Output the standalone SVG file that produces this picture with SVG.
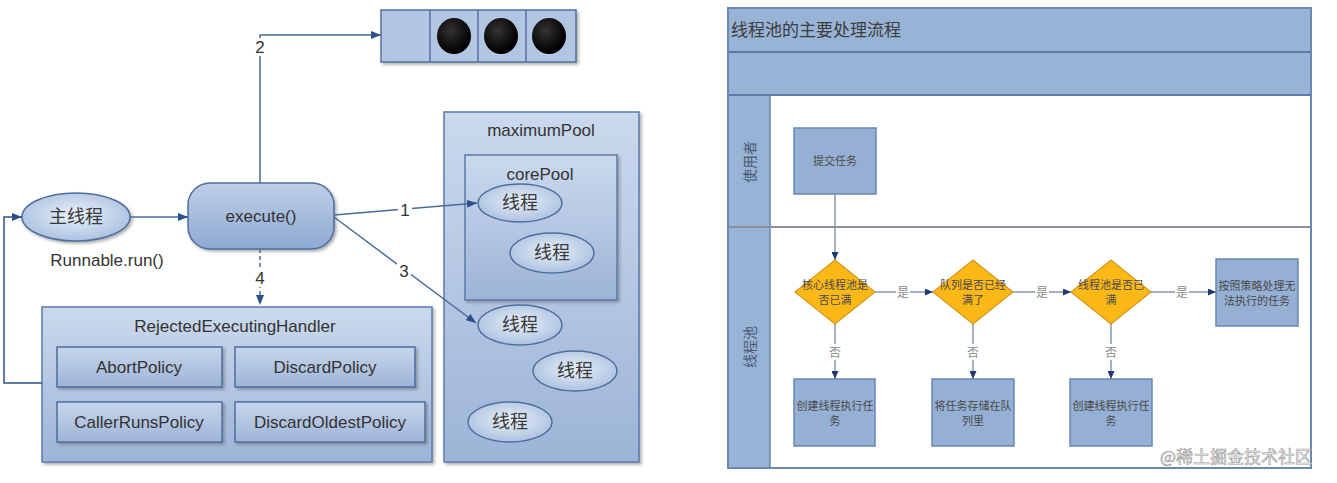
<svg xmlns="http://www.w3.org/2000/svg" width="1337" height="483" viewBox="0 0 1337 483">
<defs>
<linearGradient id="gBox" x1="0" y1="0" x2="0" y2="1"><stop offset="0" stop-color="#cbd9ed"/><stop offset="1" stop-color="#9db4d7"/></linearGradient>
<linearGradient id="gPol" x1="0" y1="0" x2="0" y2="1"><stop offset="0" stop-color="#c6d5eb"/><stop offset="1" stop-color="#9eb5d8"/></linearGradient>
<linearGradient id="gExec" x1="0" y1="0" x2="0" y2="1"><stop offset="0" stop-color="#bfcfe7"/><stop offset="1" stop-color="#8ea9d1"/></linearGradient>
<radialGradient id="gEll" cx="0.5" cy="0.45" r="0.6"><stop offset="0" stop-color="#e9f0f9"/><stop offset="1" stop-color="#a7bede"/></radialGradient>
<radialGradient id="gBall" cx="0.4" cy="0.35" r="0.6"><stop offset="0" stop-color="#333"/><stop offset="1" stop-color="#000"/></radialGradient>
<filter id="sh" x="-10%" y="-10%" width="130%" height="130%"><feDropShadow dx="2" dy="2" stdDeviation="1.5" flood-color="#555" flood-opacity="0.45"/></filter>
<marker id="ah" viewBox="0 0 10 8" refX="10" refY="4" markerWidth="10" markerHeight="8" markerUnits="userSpaceOnUse" orient="auto"><path d="M0,0 L10,4 L0,8 z" fill="#2a4f8a"/></marker>
<marker id="ar" viewBox="0 0 8 7" refX="8" refY="3.5" markerWidth="8" markerHeight="7" markerUnits="userSpaceOnUse" orient="auto"><path d="M0,0 L8,3.5 L0,7 z" fill="#1f3a70"/></marker>
<style>
.lt{font-family:"Liberation Sans","Noto Sans",sans-serif;font-size:17px;fill:#333;text-anchor:middle}
.cj{font-family:"Noto Sans CJK SC",sans-serif;font-size:18px;fill:#3a3a3a;text-anchor:middle}
.box{fill:url(#gBox);stroke:#5b7bab;stroke-width:1.5}
.pol{fill:url(#gPol);stroke:#4f6f9f;stroke-width:1.5;filter:url(#sh)}
.ell{fill:url(#gEll);stroke:#4f6f9f;stroke-width:1.5}
.cn{fill:none;stroke:#4a6c9b;stroke-width:1.5}
.rb{fill:#95b0d4;stroke:#6a86b0;stroke-width:1.5}
.dm{fill:#fbb817;stroke:#d4981f;stroke-width:1.2}
.rt{font-family:"Noto Sans CJK SC",serif;font-size:11px;fill:#4a4a4a;text-anchor:middle}
.rc{fill:none;stroke:#8d97a8;stroke-width:1.5}
.lb{font-family:"Noto Sans CJK SC",serif;font-size:12px;fill:#8c8c8c;text-anchor:middle}
</style>
</defs>
<rect width="1337" height="483" fill="#ffffff"/>

<!-- LEFT DIAGRAM -->
<g id="queue">
<rect x="381" y="10" width="195" height="52" fill="#b3c6e1" stroke="#53719f" stroke-width="1.5" filter="url(#sh)"/>
<line x1="430" y1="10" x2="430" y2="62" stroke="#53719f" stroke-width="1.5"/>
<line x1="478" y1="10" x2="478" y2="62" stroke="#53719f" stroke-width="1.5"/>
<line x1="526" y1="10" x2="526" y2="62" stroke="#53719f" stroke-width="1.5"/>
<ellipse cx="454" cy="36" rx="17" ry="18" fill="url(#gBall)"/>
<ellipse cx="501" cy="36" rx="17" ry="18" fill="url(#gBall)"/>
<ellipse cx="549" cy="36" rx="17" ry="18" fill="url(#gBall)"/>
</g>

<g id="maximumPool">
<rect x="444" y="112" width="195" height="350" class="box" filter="url(#sh)"/>
<text x="541" y="136" class="lt">maximumPool</text>
</g>
<g id="corePool">
<rect x="465" y="155" width="152" height="145" class="box" filter="url(#sh)"/>
<text x="540" y="180" class="lt">corePool</text>
</g>
<g id="thread1"><ellipse cx="520" cy="203" rx="42" ry="19" class="ell"/><text x="520" y="209" class="cj">线程</text></g>
<g id="thread2"><ellipse cx="552" cy="253" rx="42" ry="20" class="ell"/><text x="552" y="259" class="cj">线程</text></g>
<g id="thread3"><ellipse cx="520" cy="325" rx="42" ry="20" class="ell"/><text x="520" y="331" class="cj">线程</text></g>
<g id="thread4"><ellipse cx="575" cy="371" rx="42" ry="20" class="ell"/><text x="575" y="377" class="cj">线程</text></g>
<g id="thread5"><ellipse cx="510" cy="422" rx="42" ry="20" class="ell"/><text x="510" y="428" class="cj">线程</text></g>

<g id="mainThread">
<ellipse cx="76" cy="217" rx="54" ry="24" class="ell" filter="url(#sh)"/>
<text x="76" y="223" class="cj">主线程</text>
<text x="107" y="266" class="lt">Runnable.run()</text>
</g>

<g id="execute">
<rect x="188" y="183" width="146" height="66" rx="22" fill="url(#gExec)" stroke="#4f6f9f" stroke-width="1.5" filter="url(#sh)"/>
<text x="261" y="222" class="lt">execute()</text>
</g>

<g id="rejectedHandler">
<rect x="42" y="307" width="390" height="155" class="box" filter="url(#sh)"/>
<text x="235" y="332" class="lt">RejectedExecutingHandler</text>
</g>
<g id="abortPolicy"><rect x="57" y="347" width="165" height="40" class="pol"/><text x="139" y="373" class="lt">AbortPolicy</text></g>
<g id="discardPolicy"><rect x="235" y="347" width="180" height="40" class="pol"/><text x="325" y="373" class="lt">DiscardPolicy</text></g>
<g id="callerRunsPolicy"><rect x="57" y="402" width="165" height="40" class="pol"/><text x="139" y="428" class="lt">CallerRunsPolicy</text></g>
<g id="discardOldestPolicy"><rect x="235" y="402" width="190" height="40" class="pol"/><text x="330" y="428" class="lt">DiscardOldestPolicy</text></g>

<g id="connectors-left">
<path d="M130,217 L188,217" class="cn" marker-end="url(#ah)"/>
<path d="M260,183 L260,35 L381,35" class="cn" marker-end="url(#ah)"/>
<rect x="252" y="38" width="16" height="18" fill="#fff"/>
<text x="260" y="53" class="lt">2</text>
<path d="M334,215 L477,203" class="cn" marker-end="url(#ah)"/>
<rect x="398" y="201" width="14" height="18" fill="#fff"/>
<text x="405" y="216" class="lt">1</text>
<path d="M334,217 L476,323" class="cn" marker-end="url(#ah)"/>
<rect x="397" y="262" width="14" height="18" fill="#fff"/>
<text x="404" y="277" class="lt">3</text>
<path d="M260,249 L260,305" class="cn" stroke-dasharray="4 3" marker-end="url(#ah)"/>
<rect x="252" y="268" width="16" height="19" fill="#fff"/>
<text x="260" y="284" class="lt">4</text>
<path d="M42,383 L4,383 L4,217 L22,217" fill="none" stroke="#2f5288" stroke-width="1.5" marker-end="url(#ah)"/>
</g>

<!-- RIGHT DIAGRAM -->
<g id="swimlane">
<rect x="728" y="8" width="583" height="460" fill="#ffffff" stroke="#6a88b2" stroke-width="2"/>
<rect x="728" y="8" width="583" height="44" fill="#97b3d6"/>
<rect x="728" y="52" width="583" height="43" fill="#97b3d6"/>
<rect x="728" y="95" width="42" height="373" fill="#97b3d6"/>
<line x1="728" y1="52" x2="1311" y2="52" stroke="#5a7aa8" stroke-width="2"/>
<line x1="728" y1="95" x2="1311" y2="95" stroke="#5a7aa8" stroke-width="2"/>
<line x1="770" y1="95" x2="770" y2="468" stroke="#6a86b0" stroke-width="1.5"/>
<line x1="728" y1="227" x2="1311" y2="227" stroke="#8a8f98" stroke-width="2"/>
<rect x="728" y="8" width="583" height="460" fill="none" stroke="#6a88b2" stroke-width="2"/>
<text x="731" y="36" font-family="Noto Sans CJK SC, serif" font-size="17" fill="#3d3d3d">线程池的主要处理流程</text>
<text transform="translate(755,162) rotate(-90)" font-family="Noto Sans CJK SC, serif" font-size="14" fill="#4a5a72" text-anchor="middle">使用者</text>
<text transform="translate(755,347) rotate(-90)" font-family="Noto Sans CJK SC, serif" font-size="14" fill="#4a5a72" text-anchor="middle">线程池</text>
</g>

<g id="submit"><rect x="794" y="128" width="82" height="66" class="rb"/><text x="835" y="165" class="rt">提交任务</text></g>
<g id="d1"><polygon points="795,292 835,260 875,292 835,324" class="dm"/><text x="835" y="289" class="rt">核心线程池是</text><text x="835" y="304" class="rt">否已满</text></g>
<g id="d2"><polygon points="933,292 973,260 1013,292 973,324" class="dm"/><text x="973" y="289" class="rt">队列是否已经</text><text x="973" y="304" class="rt">满了</text></g>
<g id="d3"><polygon points="1071,292 1111,260 1151,292 1111,324" class="dm"/><text x="1111" y="289" class="rt">线程池是否已</text><text x="1111" y="304" class="rt">满</text></g>
<g id="reject"><rect x="1216" y="259" width="82" height="67" class="rb"/><text x="1257" y="290" class="rt">按照策略处理无</text><text x="1257" y="305" class="rt">法执行的任务</text></g>
<g id="b1"><rect x="794" y="379" width="81" height="67" class="rb"/><text x="835" y="410" class="rt">创建线程执行任</text><text x="835" y="425" class="rt">务</text></g>
<g id="b2"><rect x="932" y="379" width="82" height="67" class="rb"/><text x="973" y="410" class="rt">将任务存储在队</text><text x="973" y="425" class="rt">列里</text></g>
<g id="b3"><rect x="1070" y="379" width="82" height="67" class="rb"/><text x="1111" y="410" class="rt">创建线程执行任</text><text x="1111" y="425" class="rt">务</text></g>

<g id="connectors-right">
<path d="M835,194 L835,260" class="rc" marker-end="url(#ar)"/>
<path d="M875,292 L933,292" class="rc" marker-end="url(#ar)"/>
<path d="M1013,292 L1071,292" class="rc" marker-end="url(#ar)"/>
<path d="M1151,292 L1216,292" class="rc" marker-end="url(#ar)"/>
<path d="M835,324 L835,379" class="rc" marker-end="url(#ar)"/>
<path d="M973,324 L973,379" class="rc" marker-end="url(#ar)"/>
<path d="M1111,324 L1111,379" class="rc" marker-end="url(#ar)"/>
<rect x="896" y="284" width="14" height="16" fill="#fff"/><text x="903" y="297" class="lb">是</text>
<rect x="1035" y="284" width="14" height="16" fill="#fff"/><text x="1042" y="297" class="lb">是</text>
<rect x="1175" y="284" width="14" height="16" fill="#fff"/><text x="1182" y="297" class="lb">是</text>
<rect x="828" y="344" width="14" height="16" fill="#fff"/><text x="835" y="357" class="lb">否</text>
<rect x="966" y="344" width="14" height="16" fill="#fff"/><text x="973" y="357" class="lb">否</text>
<rect x="1104" y="344" width="14" height="16" fill="#fff"/><text x="1111" y="357" class="lb">否</text>
</g>

<text x="1160" y="463" font-family="Noto Sans CJK SC, sans-serif" font-size="17" fill="#f2f2f2" stroke="#9a9a9a" stroke-width="0.6">@稀土掘金技术社区</text>
</svg>
